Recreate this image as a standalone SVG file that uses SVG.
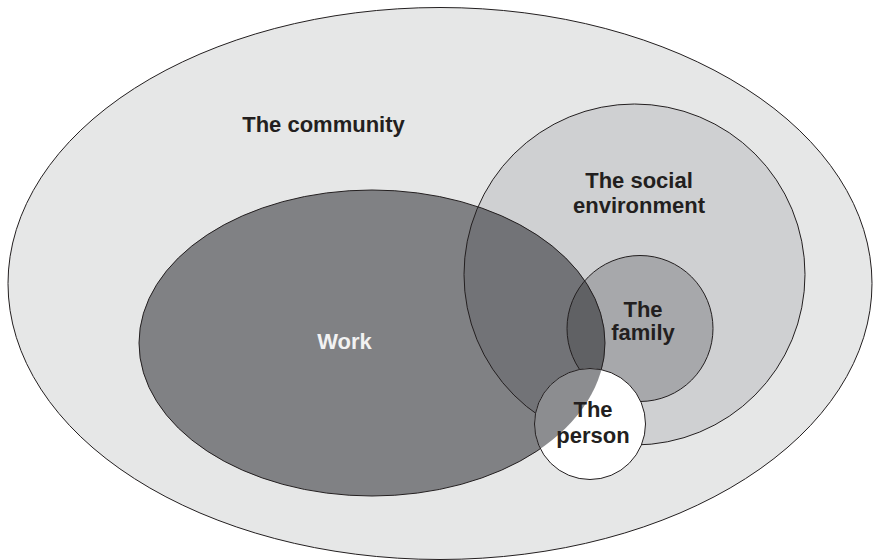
<svg xmlns="http://www.w3.org/2000/svg" width="875" height="560" viewBox="0 0 875 560">
<style>
.ln{fill:none;stroke:#231f20;stroke-width:1}
.t{font-family:"Liberation Sans",Arial,sans-serif;font-weight:bold;font-size:22px;fill:#231f20;text-anchor:middle}
.w{fill:#f2f2f2}
</style>
<defs>
<clipPath id="cSocial"><circle cx="634.5" cy="274.5" r="170.5"/></clipPath>
<clipPath id="cFamily"><circle cx="640" cy="328.5" r="73"/></clipPath>
<clipPath id="cPerson"><circle cx="590" cy="424" r="55.5"/></clipPath>
</defs>
<rect width="875" height="560" fill="#ffffff"/>
<g id="community">
<ellipse cx="440" cy="283.5" rx="432" ry="276" fill="#e6e7e7" stroke="#231f20" stroke-width="1"/>
<text class="t" x="323.5" y="132">The community</text>
</g>
<g id="social">
<circle cx="634.5" cy="274.5" r="170.5" fill="#cfd0d2"/>
</g>
<g id="family">
<circle cx="640" cy="328.5" r="73" fill="#a7a8ab"/>
</g>
<g id="work">
<ellipse cx="372" cy="343" rx="233" ry="153" fill="#808184"/>
<ellipse cx="372" cy="343" rx="233" ry="153" fill="#727377" clip-path="url(#cSocial)"/>
<ellipse cx="372" cy="343" rx="233" ry="153" fill="#606164" clip-path="url(#cFamily)"/>
</g>
<g id="outlines">
<circle class="ln" cx="634.5" cy="274.5" r="170.5"/>
<circle class="ln" cx="640" cy="328.5" r="73"/>
<ellipse class="ln" cx="372" cy="343" rx="233" ry="153"/>
</g>
<g id="person">
<circle cx="590" cy="424" r="55.5" fill="#ffffff"/>
<ellipse cx="372" cy="343" rx="233" ry="153" fill="#8c8d90" clip-path="url(#cPerson)"/>
<circle class="ln" cx="590" cy="424" r="55.5"/>
</g>
<g id="labels">
<text class="t" x="639" y="188">The social</text>
<text class="t" x="639" y="213">environment</text>
<text class="t w" x="344.5" y="349">Work</text>
<text class="t" x="643" y="317">The</text>
<text class="t" x="643" y="340">family</text>
<text class="t" x="593" y="417">The</text>
<text class="t" x="593" y="443">person</text>
</g>
</svg>
